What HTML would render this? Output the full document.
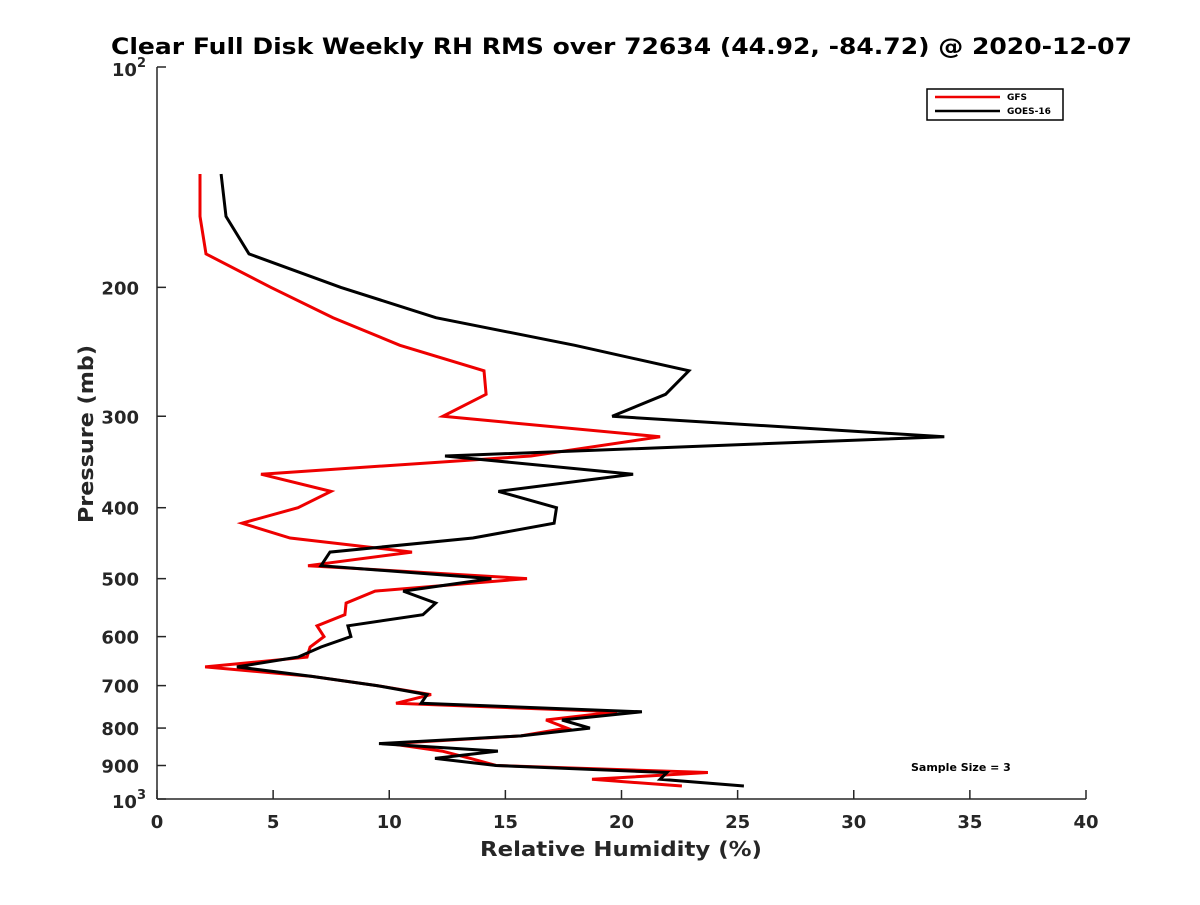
<!DOCTYPE html>
<html><head><meta charset="utf-8"><style>
body{margin:0;background:#fff}
svg text{font-family:"DejaVu Sans","Liberation Sans",sans-serif;font-weight:bold;fill:#262626}
</style></head><body>
<svg id="chart" width="1200" height="900" xmlns="http://www.w3.org/2000/svg">
<rect width="1200" height="900" fill="#fff"/>
<text x="111" y="54" font-size="22" textLength="1021" lengthAdjust="spacingAndGlyphs" style="fill:#000">Clear Full Disk Weekly RH RMS over 72634 (44.92, -84.72) @ 2020-12-07</text>
<g id="axes"></g>
<g id="series"></g>
<text x="480" y="856" font-size="20" textLength="282" lengthAdjust="spacingAndGlyphs">Relative Humidity (%)</text>
<text transform="translate(93,523) rotate(-90)" font-size="20" textLength="178" lengthAdjust="spacingAndGlyphs">Pressure (mb)</text>
<g>
<rect x="927" y="89" width="136" height="31" fill="#fff" stroke="#000" stroke-width="1.5"/>
<line x1="935" y1="97" x2="1000" y2="97" stroke="#e00" stroke-width="2.5"/>
<text x="1007" y="100" font-size="9" style="fill:#000">GFS</text>
<line x1="935" y1="111" x2="1000" y2="111" stroke="#000" stroke-width="2.5"/>
<text x="1007" y="114" font-size="9" style="fill:#000">GOES-16</text>
</g>
<text x="911" y="771" font-size="11" style="fill:#000">Sample Size = 3</text>
</svg>
<script>
const pressures = [140,160,180,200,220,240,260,280,300,320,340,360,380,400,420,440,460,480,500,520,540,560,580,600,620,640,660,680,700,720,740,760,780,800,820,840,860,880,900,920,940,960];
const gfsValues = [1.85,1.85,2.11,4.91,7.58,10.46,14.08,14.17,12.31,21.66,16.1,4.48,7.49,6.07,3.66,5.73,10.98,6.5,15.93,9.39,8.14,8.09,6.89,7.19,6.59,6.46,2.07,6.67,9.47,11.8,10.29,19.81,16.75,17.65,15.67,10.03,12.27,13.5,14.6,23.72,18.73,22.6];
const goesValues = [2.76,2.97,3.96,7.92,12.01,17.99,22.9,21.9,19.6,33.9,12.4,20.5,14.7,17.2,17.1,13.6,7.45,7.06,14.4,10.6,12.0,11.45,8.22,8.35,7.06,6.07,3.44,6.67,9.47,11.63,11.37,20.88,17.44,18.64,15.67,9.56,14.68,11.97,14.6,21.96,21.66,25.27];
const xTicks = [0,5,10,15,20,25,30,35,40];
const yTicks = [200,300,400,500,600,700,800,900];

const NS="http://www.w3.org/2000/svg";
const X0=157,X1=1086,Y0=67,Y1=799;
function xs(v){return X0+(v-0)/40*(X1-X0);}
function ys(p){return Y0+(Math.log10(p)-2)*(Y1-Y0);}
function mk(tag,attrs,parent){const e=document.createElementNS(NS,tag);for(const k in attrs)e.setAttribute(k,attrs[k]);parent.appendChild(e);return e;}
const ax=document.getElementById('axes');
let l=mk('line',{x1:X0,y1:Y0,x2:X0,y2:Y1,stroke:'#262626','stroke-width':1.5},ax);


l=mk('line',{x1:X0,y1:Y1,x2:X1,y2:Y1,stroke:'#262626','stroke-width':1.5},ax);


xTicks.forEach(v=>{
  mk('line',{x1:xs(v),y1:Y1,x2:xs(v),y2:Y1-9,stroke:'#262626','stroke-width':1.5},ax);
  const t=mk('text',{x:xs(v),y:Y1+29,'text-anchor':'middle','font-size':18},ax);
  t.textContent=v;
  
  
});
yTicks.forEach(p=>{
  mk('line',{x1:X0,y1:ys(p),x2:X0+9,y2:ys(p),stroke:'#262626','stroke-width':1.5},ax);
  const t=mk('text',{x:X0-18,y:ys(p)+7,'text-anchor':'end','font-size':18},ax);
  t.textContent=p;
  
  
});
[[100,'2'],[1000,'3']].forEach(([p,e])=>{
  mk('line',{x1:X0,y1:ys(p),x2:X0+9,y2:ys(p),stroke:'#262626','stroke-width':1.5},ax);
  const t=mk('text',{x:X0-11,y:ys(p)+9,'text-anchor':'end','font-size':18},ax);
  t.textContent='10';
  const s=mk('tspan',{dy:-9,'font-size':13},t);s.textContent=e;
  
  
});
const sg=document.getElementById('series');
function line(vals,color,name){
  const pts=vals.map((v,i)=>xs(v).toFixed(1)+','+ys(pressures[i]).toFixed(1)).join(' ');
  const pl=mk('polyline',{points:pts,fill:'none',stroke:color,'stroke-width':3,'stroke-linejoin':'miter'},sg);
  
  
}
line(gfsValues,'#e00','gfs-line');
line(goesValues,'#000','goes16-line');
</script>
</body></html>
